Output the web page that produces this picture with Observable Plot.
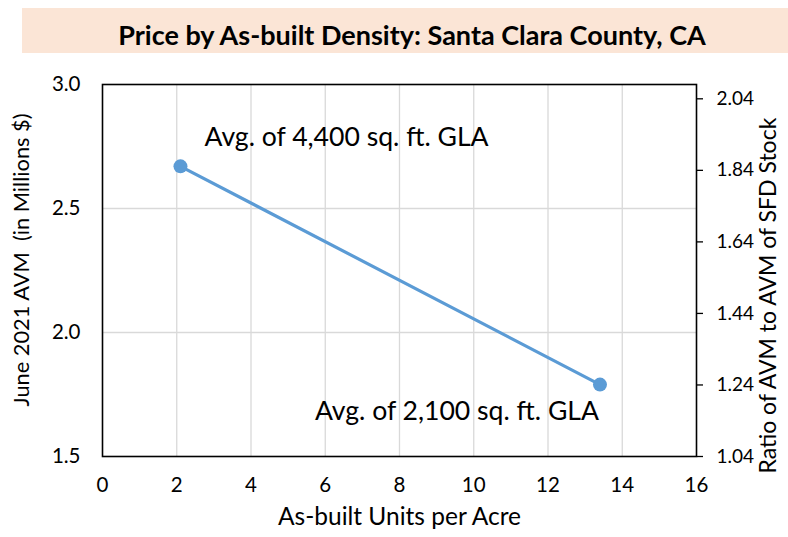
<!DOCTYPE html>
<html>
<head>
<meta charset="utf-8">
<script src="https://cdn.jsdelivr.net/npm/d3@7"></script>
<script src="https://cdn.jsdelivr.net/npm/@observablehq/plot@0.6"></script>
<style>
  html, body { margin: 0; padding: 0; background: #fff; overflow: hidden; width: 788px; height: 537px; }
  #banner {
    margin: 8px 0 0 22px; width: 766px; height: 45px; box-sizing: border-box;
    background: #FBE5D6; font-family: Lato, "Open Sans", sans-serif; font-weight: bold;
    font-size: 27px; line-height: 27px; padding: 13px 0 0 14px; text-align: center; color: #000;
    white-space: nowrap; overflow: hidden;
  }
  #chart svg { display: block; overflow: hidden; }
</style>
</head>
<body>
<div id="banner">Price by As-built Density: Santa Clara County, CA</div>
<div id="chart"></div>
<script>
// ---- data ----
const unitsPerAcre = [2.1, 13.4];
const avmMillions = [2.67, 1.79];
const pointLabels = ["Avg. of 4,400 sq. ft. GLA", "Avg. of 2,100 sq. ft. GLA"];
const xTicks = [0, 2, 4, 6, 8, 10, 12, 14, 16];
const leftTicks = [1.5, 2.0, 2.5, 3.0];
const rightTicks = [1.04, 1.24, 1.44, 1.64, 1.84, 2.04];
const sfdStockAvm = 1.4423; // ratio = AVM / AVM of SFD stock
const xTitle = "As-built Units per Acre";
const leftTitle = "June 2021 AVM  (in Millions $)";
const rightTitle = "Ratio of AVM to AVM of SFD Stock";

const rows = unitsPerAcre.map((x, i) => ({x, y: avmMillions[i], label: pointLabels[i]}));
const blue = "#5B9BD5";
const font = "Lato, 'Open Sans', sans-serif";

const plot = Plot.plot({
  width: 788,
  height: 484,
  marginTop: 31,
  marginBottom: 81,
  marginLeft: 102,
  marginRight: 92,
  style: {fontFamily: font, fontSize: "20px", color: "#000", background: "transparent"},
  x: {domain: [0, 16]},
  y: {domain: [1.5, 3.0]},
  marks: [
    Plot.gridX(xTicks.slice(1, -1), {stroke: "#D9D9D9", strokeOpacity: 1, strokeWidth: 1.3}),
    Plot.gridY(leftTicks.slice(1, -1), {stroke: "#D9D9D9", strokeOpacity: 1, strokeWidth: 1.3}),
    Plot.axisX({ticks: xTicks, tickSize: 0, tickPadding: 21, label: null, tickFormat: d => String(d), fontSize: 20.5}),
    Plot.axisY({ticks: leftTicks, tickSize: 0, tickPadding: 22, label: null, tickFormat: d => d.toFixed(1), fontSize: 20.5}),
    Plot.axisY({anchor: "right", ticks: rightTicks.map(r => r * sfdStockAvm), tickSize: 6, tickPadding: 14, strokeWidth: 1.3,
      label: null, tickFormat: d => (d / sfdStockAvm).toFixed(2), fontSize: 19}),
    Plot.frame({stroke: "#000", strokeWidth: 1.6}),
    Plot.line(rows, {x: "x", y: "y", stroke: blue, strokeWidth: 3.2}),
    Plot.dot(rows, {x: "x", y: "y", r: 7, fill: blue, stroke: "none"}),
    Plot.text(rows.slice(0, 1), {x: "x", y: "y", text: "label", textAnchor: "start", dx: 24, dy: -29, fontSize: 26.6, fill: "#000"}),
    Plot.text(rows.slice(1, 2), {x: "x", y: "y", text: "label", textAnchor: "end", dx: -1, dy: 27, fontSize: 26.6, fill: "#000"}),
    Plot.text([xTitle], {frameAnchor: "bottom", text: d => d, dy: 68, fontSize: 24.5, fill: "#000"}),
    Plot.text([leftTitle], {frameAnchor: "bottom-left", text: d => d, rotate: -90, textAnchor: "start", dx: -74, dy: -50, fontSize: 21.8, fill: "#000"}),
    Plot.text([rightTitle], {frameAnchor: "bottom-right", text: d => d, rotate: -90, textAnchor: "start", dx: 79, dy: 17, fontSize: 23, fill: "#000"})
  ]
});
document.getElementById("chart").appendChild(plot);
</script>
</body>
</html>
